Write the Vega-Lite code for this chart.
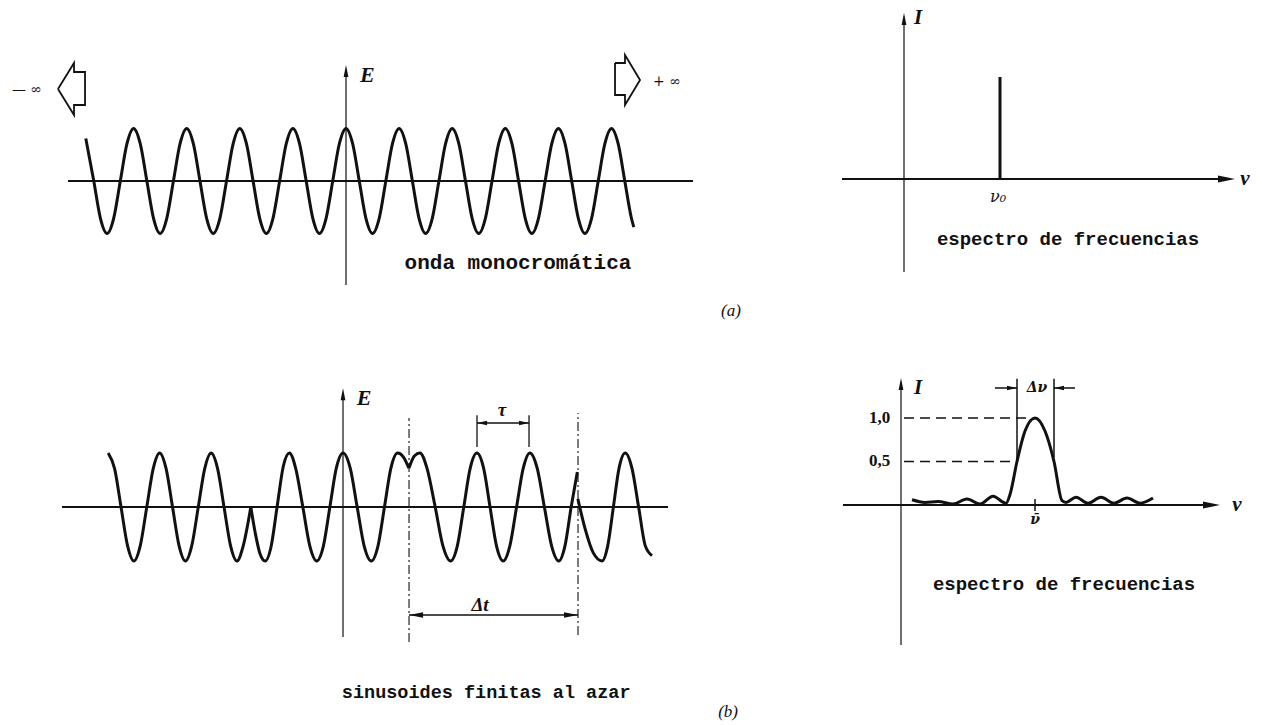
{
 "$schema": "https://vega.github.io/schema/vega-lite/v6.json",
 "padding": 0,
 "background": "white",
 "spacing": 0,
 "bounds": "flush",
 "align": "each",
 "columns": 2,
 "config": {"view": {"stroke": null}},
 "resolve": {"scale": {"x": "independent", "y": "independent"}},
 "concat": [
    {
     "width": 780, "height": 345,
     "encoding": {
      "x": {"field": "t", "type": "quantitative", "scale": {"domain": [-6.516, 8.173], "nice": false, "zero": false}, "axis": null},
      "y": {"field": "E", "type": "quantitative", "scale": {"domain": [-3.124, 3.448], "nice": false, "zero": false}, "axis": null}
     },
     "layer": [
      {"data": {"values": [{"t": -5.235, "E": 0, "t2": 6.535, "E2": 0}]}, "mark": {"type": "rule", "strokeWidth": 2, "color": "#111"}, "encoding": {"x2": {"field": "t2"}, "y2": {"field": "E2"}}},
      {"data": {"values": [{"t": 0, "E": -1.98, "t2": 0, "E2": 2.1}]}, "mark": {"type": "rule", "strokeWidth": 1.2, "color": "#111"}, "encoding": {"x2": {"field": "t2"}, "y2": {"field": "E2"}}},
      {"data": {"values": [{"t": 0, "E": 2.095}]}, "mark": {"type": "point", "shape": "M0,-1L0.4,1L-0.4,1Z", "size": 144, "filled": true, "color": "#111", "opacity": 1}, "encoding": {}},
      {"data": {"values": [
        {"t":-4.9,"E":0.81},{"t":-4.75,"E":0},{"t":-4.625,"E":-0.71},{"t":-4.5,"E":-1},{"t":-4.375,"E":-0.71},{"t":-4.25,"E":0},{"t":-4.125,"E":0.71},
        {"t":-4,"E":1},{"t":-3.875,"E":0.71},{"t":-3.75,"E":0},{"t":-3.625,"E":-0.71},{"t":-3.5,"E":-1},{"t":-3.375,"E":-0.71},{"t":-3.25,"E":0},{"t":-3.125,"E":0.71},
        {"t":-3,"E":1},{"t":-2.875,"E":0.71},{"t":-2.75,"E":0},{"t":-2.625,"E":-0.71},{"t":-2.5,"E":-1},{"t":-2.375,"E":-0.71},{"t":-2.25,"E":0},{"t":-2.125,"E":0.71},
        {"t":-2,"E":1},{"t":-1.875,"E":0.71},{"t":-1.75,"E":0},{"t":-1.625,"E":-0.71},{"t":-1.5,"E":-1},{"t":-1.375,"E":-0.71},{"t":-1.25,"E":0},{"t":-1.125,"E":0.71},
        {"t":-1,"E":1},{"t":-0.875,"E":0.71},{"t":-0.75,"E":0},{"t":-0.625,"E":-0.71},{"t":-0.5,"E":-1},{"t":-0.375,"E":-0.71},{"t":-0.25,"E":0},{"t":-0.125,"E":0.71},
        {"t":0,"E":1},{"t":0.125,"E":0.71},{"t":0.25,"E":0},{"t":0.375,"E":-0.71},{"t":0.5,"E":-1},{"t":0.625,"E":-0.71},{"t":0.75,"E":0},{"t":0.875,"E":0.71},
        {"t":1,"E":1},{"t":1.125,"E":0.71},{"t":1.25,"E":0},{"t":1.375,"E":-0.71},{"t":1.5,"E":-1},{"t":1.625,"E":-0.71},{"t":1.75,"E":0},{"t":1.875,"E":0.71},
        {"t":2,"E":1},{"t":2.125,"E":0.71},{"t":2.25,"E":0},{"t":2.375,"E":-0.71},{"t":2.5,"E":-1},{"t":2.625,"E":-0.71},{"t":2.75,"E":0},{"t":2.875,"E":0.71},
        {"t":3,"E":1},{"t":3.125,"E":0.71},{"t":3.25,"E":0},{"t":3.375,"E":-0.71},{"t":3.5,"E":-1},{"t":3.625,"E":-0.71},{"t":3.75,"E":0},{"t":3.875,"E":0.71},
        {"t":4,"E":1},{"t":4.125,"E":0.71},{"t":4.25,"E":0},{"t":4.375,"E":-0.71},{"t":4.5,"E":-1},{"t":4.625,"E":-0.71},{"t":4.75,"E":0},{"t":4.875,"E":0.71},
        {"t":5,"E":1},{"t":5.125,"E":0.71},{"t":5.25,"E":0},{"t":5.375,"E":-0.71},{"t":5.42,"E":-0.88}
      ]}, "mark": {"type": "line", "interpolate": "monotone", "strokeWidth": 3, "color": "#111"}, "encoding": {}},
      {"data": {"values": [
        {"g":"L","i":0,"t":-5.424,"E":1.752},{"g":"L","i":1,"t":-5.122,"E":2.248},{"g":"L","i":2,"t":-5.122,"E":2.076},{"g":"L","i":3,"t":-4.915,"E":2.076},
        {"g":"L","i":4,"t":-4.915,"E":1.448},{"g":"L","i":5,"t":-5.122,"E":1.448},{"g":"L","i":6,"t":-5.122,"E":1.257},{"g":"L","i":7,"t":-5.424,"E":1.752},
        {"g":"R","i":0,"t":5.066,"E":2.248},{"g":"R","i":1,"t":5.254,"E":2.248},{"g":"R","i":2,"t":5.254,"E":2.4},{"g":"R","i":3,"t":5.537,"E":1.924},
        {"g":"R","i":4,"t":5.254,"E":1.448},{"g":"R","i":5,"t":5.254,"E":1.638},{"g":"R","i":6,"t":5.066,"E":1.638},{"g":"R","i":7,"t":5.066,"E":2.248}
      ]}, "mark": {"type": "line", "strokeWidth": 1.8, "color": "#111", "strokeJoin": "miter"}, "encoding": {"detail": {"field": "g"}, "order": {"field": "i"}}},
      {"data": {"values": [{"t": -6.008, "E": 1.73, "label": "— ∞"}, {"t": 6.045, "E": 1.886, "label": "+ ∞"}]}, "mark": {"type": "text", "font": "DejaVu Serif", "fontSize": 14, "color": "#111", "align": "center", "baseline": "middle"}, "encoding": {"text": {"field": "label"}}},
      {"data": {"values": [{"t": 0.4, "E": 2.02, "label": "E"}]}, "mark": {"type": "text", "font": "Liberation Serif", "fontStyle": "italic", "fontWeight": "bold", "fontSize": 22, "color": "#111", "align": "center", "baseline": "middle"}, "encoding": {"text": {"field": "label"}}},
      {"data": {"values": [{"t": 3.239, "E": -1.562, "label": "onda monocromática"}]}, "mark": {"type": "text", "font": "Liberation Mono", "fontWeight": "bold", "fontSize": 21, "color": "#111", "align": "center", "baseline": "middle"}, "encoding": {"text": {"field": "label"}}},
      {"data": {"values": [{"t": 7.25, "E": -2.476, "label": "(a)"}]}, "mark": {"type": "text", "font": "Liberation Serif", "fontStyle": "italic", "fontSize": 17, "color": "#111", "align": "center", "baseline": "middle"}, "encoding": {"text": {"field": "label"}}}
     ]
    },
    {
     "width": 482, "height": 345,
     "encoding": {
      "x": {"field": "nu", "type": "quantitative", "scale": {"domain": [-1.24, 3.58], "nice": false, "zero": false}, "axis": null},
      "y": {"field": "I", "type": "quantitative", "scale": {"domain": [-1.66, 1.79], "nice": false, "zero": false}, "axis": null}
     },
     "layer": [
      {"data": {"values": [{"nu": -0.62, "I": 0, "nu2": 3.2, "I2": 0}]}, "mark": {"type": "rule", "strokeWidth": 2, "color": "#111"}, "encoding": {"x2": {"field": "nu2"}, "y2": {"field": "I2"}}},
      {"data": {"values": [{"nu": 3.225, "I": 0}]}, "mark": {"type": "point", "shape": "M1,0L-1,-0.4L-1,0.4Z", "size": 289, "filled": true, "color": "#111", "opacity": 1}, "encoding": {}},
      {"data": {"values": [{"nu": 0, "I": -0.93, "nu2": 0, "I2": 1.55}]}, "mark": {"type": "rule", "strokeWidth": 1.2, "color": "#111"}, "encoding": {"x2": {"field": "nu2"}, "y2": {"field": "I2"}}},
      {"data": {"values": [{"nu": 0, "I": 1.6}]}, "mark": {"type": "point", "shape": "M0,-1L0.4,1L-0.4,1Z", "size": 144, "filled": true, "color": "#111", "opacity": 1}, "encoding": {}},
      {"data": {"values": [{"nu": 0.96, "I": 0, "nu2": 0.96, "I2": 1.02}]}, "mark": {"type": "rule", "strokeWidth": 3, "color": "#111"}, "encoding": {"x2": {"field": "nu2"}, "y2": {"field": "I2"}}},
      {"data": {"values": [{"nu": 0.14, "I": 1.61, "label": "I"}, {"nu": 3.41, "I": 0, "label": "ν"}]}, "mark": {"type": "text", "font": "Liberation Serif", "fontStyle": "italic", "fontWeight": "bold", "fontSize": 21, "color": "#111", "align": "center", "baseline": "middle"}, "encoding": {"text": {"field": "label"}}},
      {"data": {"values": [{"nu": 0.94, "I": -0.18, "label": "ν₀"}]}, "mark": {"type": "text", "font": "DejaVu Serif", "fontStyle": "italic", "fontSize": 16, "color": "#111", "align": "center", "baseline": "middle"}, "encoding": {"text": {"field": "label"}}},
      {"data": {"values": [{"nu": 1.64, "I": -0.6, "label": "espectro de frecuencias"}]}, "mark": {"type": "text", "font": "Liberation Mono", "fontWeight": "bold", "fontSize": 19, "color": "#111", "align": "center", "baseline": "middle"}, "encoding": {"text": {"field": "label"}}}
     ]
    },
    {
     "width": 780, "height": 380,
     "encoding": {
      "x": {"field": "t", "type": "quantitative", "scale": {"domain": [-6.66, 8.485], "nice": false, "zero": false}, "axis": null},
      "y": {"field": "E", "type": "quantitative", "scale": {"domain": [-4.037, 3.0], "nice": false, "zero": false}, "axis": null}
     },
     "layer": [
      {"data": {"values": [{"t": -5.456, "E": 0, "t2": 6.311, "E2": 0}]}, "mark": {"type": "rule", "strokeWidth": 2, "color": "#111"}, "encoding": {"x2": {"field": "t2"}, "y2": {"field": "E2"}}},
      {"data": {"values": [{"t": 0, "E": -2.407, "t2": 0, "E2": 2.09}]}, "mark": {"type": "rule", "strokeWidth": 1.2, "color": "#111"}, "encoding": {"x2": {"field": "t2"}, "y2": {"field": "E2"}}},
      {"data": {"values": [{"t": 0, "E": 2.09}]}, "mark": {"type": "point", "shape": "M0,-1L0.4,1L-0.4,1Z", "size": 144, "filled": true, "color": "#111", "opacity": 1}, "encoding": {}},
      {"data": {"values": [{"t": 1.282, "E": -2.5, "t2": 1.282, "E2": 1.65}, {"t": 4.563, "E": -2.37, "t2": 4.563, "E2": 1.74}]}, "mark": {"type": "rule", "strokeWidth": 1.1, "strokeDash": [9, 3, 2, 3], "color": "#111"}, "encoding": {"x2": {"field": "t2"}, "y2": {"field": "E2"}}},
      {"data": {"values": [
        {"seg":1,"t":-4.56,"E":1},{"seg":1,"t":-4.435,"E":0.71},{"seg":1,"t":-4.31,"E":0},{"seg":1,"t":-4.185,"E":-0.71},{"seg":1,"t":-4.06,"E":-1},{"seg":1,"t":-3.935,"E":-0.71},{"seg":1,"t":-3.81,"E":0},{"seg":1,"t":-3.685,"E":0.71},
        {"seg":1,"t":-3.56,"E":1},{"seg":1,"t":-3.435,"E":0.71},{"seg":1,"t":-3.31,"E":0},{"seg":1,"t":-3.185,"E":-0.71},{"seg":1,"t":-3.06,"E":-1},{"seg":1,"t":-2.935,"E":-0.71},{"seg":1,"t":-2.81,"E":0},{"seg":1,"t":-2.685,"E":0.71},
        {"seg":1,"t":-2.56,"E":1},{"seg":1,"t":-2.435,"E":0.71},{"seg":1,"t":-2.31,"E":0},{"seg":1,"t":-2.185,"E":-0.71},{"seg":1,"t":-2.06,"E":-1},{"seg":1,"t":-1.935,"E":-0.71},{"seg":1,"t":-1.79,"E":0},
        {"seg":2,"t":-1.79,"E":0},{"seg":2,"t":-1.7,"E":-0.5},{"seg":2,"t":-1.61,"E":-0.87},{"seg":2,"t":-1.51,"E":-1},{"seg":2,"t":-1.4,"E":-0.75},{"seg":2,"t":-1.28,"E":0},{"seg":2,"t":-1.16,"E":0.75},
        {"seg":2,"t":-1.04,"E":1},{"seg":2,"t":-0.92,"E":0.72},{"seg":2,"t":-0.78,"E":0},{"seg":2,"t":-0.645,"E":-0.72},{"seg":2,"t":-0.51,"E":-1},{"seg":2,"t":-0.38,"E":-0.72},{"seg":2,"t":-0.255,"E":0},{"seg":2,"t":-0.13,"E":0.72},
        {"seg":2,"t":0,"E":1},{"seg":2,"t":0.14,"E":0.72},{"seg":2,"t":0.275,"E":0},{"seg":2,"t":0.41,"E":-0.72},{"seg":2,"t":0.55,"E":-1},{"seg":2,"t":0.68,"E":-0.72},{"seg":2,"t":0.805,"E":0},{"seg":2,"t":0.93,"E":0.72},
        {"seg":2,"t":1.06,"E":1},{"seg":2,"t":1.17,"E":0.93},{"seg":2,"t":1.28,"E":0.72},
        {"seg":3,"t":1.28,"E":0.72},{"seg":3,"t":1.39,"E":0.95},{"seg":3,"t":1.495,"E":1},{"seg":3,"t":1.63,"E":0.72},{"seg":3,"t":1.79,"E":0},{"seg":3,"t":1.94,"E":-0.72},{"seg":3,"t":2.09,"E":-1},{"seg":3,"t":2.22,"E":-0.72},
        {"seg":3,"t":2.345,"E":0},{"seg":3,"t":2.47,"E":0.72},{"seg":3,"t":2.6,"E":1},{"seg":3,"t":2.73,"E":0.72},{"seg":3,"t":2.855,"E":0},{"seg":3,"t":2.98,"E":-0.72},{"seg":3,"t":3.11,"E":-1},{"seg":3,"t":3.24,"E":-0.72},
        {"seg":3,"t":3.37,"E":0},{"seg":3,"t":3.5,"E":0.72},{"seg":3,"t":3.63,"E":1},{"seg":3,"t":3.77,"E":0.72},{"seg":3,"t":3.91,"E":0},{"seg":3,"t":4.05,"E":-0.72},{"seg":3,"t":4.19,"E":-1},{"seg":3,"t":4.31,"E":-0.72},
        {"seg":3,"t":4.43,"E":0},{"seg":3,"t":4.55,"E":0.65},
        {"seg":4,"t":4.56,"E":0.15},{"seg":4,"t":4.7,"E":-0.4},{"seg":4,"t":4.86,"E":-0.85},{"seg":4,"t":5.03,"E":-1},{"seg":4,"t":5.14,"E":-0.72},{"seg":4,"t":5.25,"E":0},{"seg":4,"t":5.36,"E":0.72},
        {"seg":4,"t":5.48,"E":1},{"seg":4,"t":5.61,"E":0.72},{"seg":4,"t":5.74,"E":0},{"seg":4,"t":5.87,"E":-0.72},{"seg":4,"t":6.0,"E":-0.9}
      ]}, "mark": {"type": "line", "interpolate": "monotone", "strokeWidth": 3, "color": "#111"}, "encoding": {"detail": {"field": "seg"}}},
      {"data": {"values": [{"t": 1.282, "E": -2.0, "t2": 4.563, "E2": -2.0}, {"t": 2.602, "E": 1.556, "t2": 3.612, "E2": 1.556}]}, "mark": {"type": "rule", "strokeWidth": 1.5, "color": "#111"}, "encoding": {"x2": {"field": "t2"}, "y2": {"field": "E2"}}},
      {"data": {"values": [{"t": 2.602, "E": 1.11, "t2": 2.602, "E2": 1.7}, {"t": 3.612, "E": 1.11, "t2": 3.612, "E2": 1.7}]}, "mark": {"type": "rule", "strokeWidth": 1.3, "color": "#111"}, "encoding": {"x2": {"field": "t2"}, "y2": {"field": "E2"}}},
      {"data": {"values": [{"t": 1.418, "E": -2.0}]}, "mark": {"type": "point", "shape": "M-1,0L1,-0.4L1,0.4Z", "size": 196, "filled": true, "color": "#111", "opacity": 1}, "encoding": {}},
      {"data": {"values": [{"t": 4.427, "E": -2.0}]}, "mark": {"type": "point", "shape": "M1,0L-1,-0.4L-1,0.4Z", "size": 196, "filled": true, "color": "#111", "opacity": 1}, "encoding": {}},
      {"data": {"values": [{"t": 2.7, "E": 1.556}]}, "mark": {"type": "point", "shape": "M-1,0L1,-0.45L1,0.45Z", "size": 100, "filled": true, "color": "#111", "opacity": 1}, "encoding": {}},
      {"data": {"values": [{"t": 3.515, "E": 1.556}]}, "mark": {"type": "point", "shape": "M1,0L-1,-0.45L-1,0.45Z", "size": 100, "filled": true, "color": "#111", "opacity": 1}, "encoding": {}},
      {"data": {"values": [{"t": 0.41, "E": 2.02, "label": "E"}]}, "mark": {"type": "text", "font": "Liberation Serif", "fontStyle": "italic", "fontWeight": "bold", "fontSize": 22, "color": "#111", "align": "center", "baseline": "middle"}, "encoding": {"text": {"field": "label"}}},
      {"data": {"values": [{"t": 3.087, "E": 1.8, "label": "τ"}, {"t": 2.66, "E": -1.815, "label": "Δt"}]}, "mark": {"type": "text", "font": "Liberation Serif", "fontStyle": "italic", "fontWeight": "bold", "fontSize": 19, "color": "#111", "align": "center", "baseline": "middle"}, "encoding": {"text": {"field": "label"}}},
      {"data": {"values": [{"t": 2.78, "E": -3.43, "label": "sinusoides finitas al azar"}]}, "mark": {"type": "text", "font": "Liberation Mono", "fontWeight": "bold", "fontSize": 18.5, "color": "#111", "align": "center", "baseline": "middle"}, "encoding": {"text": {"field": "label"}}},
      {"data": {"values": [{"t": 7.476, "E": -3.796, "label": "(b)"}]}, "mark": {"type": "text", "font": "Liberation Serif", "fontStyle": "italic", "fontSize": 17, "color": "#111", "align": "center", "baseline": "middle"}, "encoding": {"text": {"field": "label"}}}
     ]
    },
    {
     "width": 482, "height": 380,
     "encoding": {
      "x": {"field": "nu", "type": "quantitative", "scale": {"domain": [-1.21, 3.61], "nice": false, "zero": false}, "axis": null},
      "y": {"field": "I", "type": "quantitative", "scale": {"domain": [-2.529, 1.839], "nice": false, "zero": false}, "axis": null}
     },
     "layer": [
      {"data": {"values": [{"nu": -0.58, "I": 0, "nu2": 3.08, "I2": 0}]}, "mark": {"type": "rule", "strokeWidth": 2, "color": "#111"}, "encoding": {"x2": {"field": "nu2"}, "y2": {"field": "I2"}}},
      {"data": {"values": [{"nu": 3.105, "I": 0}]}, "mark": {"type": "point", "shape": "M1,0L-1,-0.4L-1,0.4Z", "size": 289, "filled": true, "color": "#111", "opacity": 1}, "encoding": {}},
      {"data": {"values": [{"nu": 0, "I": -1.61, "nu2": 0, "I2": 1.39}]}, "mark": {"type": "rule", "strokeWidth": 1.2, "color": "#111"}, "encoding": {"x2": {"field": "nu2"}, "y2": {"field": "I2"}}},
      {"data": {"values": [{"nu": 0, "I": 1.39}]}, "mark": {"type": "point", "shape": "M0,-1L0.4,1L-0.4,1Z", "size": 144, "filled": true, "color": "#111", "opacity": 1}, "encoding": {}},
      {"data": {"values": [
        {"nu":0.11,"I":0.06},{"nu":0.24,"I":0.03},{"nu":0.37,"I":0.04},{"nu":0.52,"I":0.01},{"nu":0.66,"I":0.07},{"nu":0.79,"I":0.01},{"nu":0.92,"I":0.1},{"nu":1.05,"I":0.02},
        {"nu":1.09,"I":0.12},{"nu":1.16,"I":0.5},{"nu":1.24,"I":0.85},{"nu":1.34,"I":1.0},{"nu":1.44,"I":0.85},{"nu":1.53,"I":0.5},{"nu":1.61,"I":0.05},
        {"nu":1.65,"I":0.03},{"nu":1.75,"I":0.09},{"nu":1.87,"I":0.02},{"nu":2.0,"I":0.09},{"nu":2.13,"I":0.02},{"nu":2.26,"I":0.08},{"nu":2.39,"I":0.02},{"nu":2.52,"I":0.08}
      ]}, "mark": {"type": "line", "interpolate": "monotone", "strokeWidth": 3, "color": "#111"}, "encoding": {}},
      {"data": {"values": [{"nu": 0.03, "I": 1, "nu2": 1.3, "I2": 1}, {"nu": 0.03, "I": 0.5, "nu2": 1.16, "I2": 0.5}]}, "mark": {"type": "rule", "strokeWidth": 1.5, "strokeDash": [10, 6], "color": "#111"}, "encoding": {"x2": {"field": "nu2"}, "y2": {"field": "I2"}}},
      {"data": {"values": [{"nu": 1.16, "I": 0.5, "nu2": 1.16, "I2": 1.45}, {"nu": 1.53, "I": 0.55, "nu2": 1.53, "I2": 1.45}, {"nu": 0.94, "I": 1.345, "nu2": 1.16, "I2": 1.345}, {"nu": 1.53, "I": 1.345, "nu2": 1.74, "I2": 1.345}, {"nu": 1.34, "I": -0.07, "nu2": 1.34, "I2": 0.07}]}, "mark": {"type": "rule", "strokeWidth": 1.5, "color": "#111"}, "encoding": {"x2": {"field": "nu2"}, "y2": {"field": "I2"}}},
      {"data": {"values": [{"nu": 1.11, "I": 1.345}]}, "mark": {"type": "point", "shape": "M1,0L-1,-0.45L-1,0.45Z", "size": 100, "filled": true, "color": "#111", "opacity": 1}, "encoding": {}},
      {"data": {"values": [{"nu": 1.58, "I": 1.345}]}, "mark": {"type": "point", "shape": "M-1,0L1,-0.45L1,0.45Z", "size": 100, "filled": true, "color": "#111", "opacity": 1}, "encoding": {}},
      {"data": {"values": [{"nu": 0.17, "I": 1.345, "label": "I"}, {"nu": 3.36, "I": 0, "label": "ν"}]}, "mark": {"type": "text", "font": "Liberation Serif", "fontStyle": "italic", "fontWeight": "bold", "fontSize": 21, "color": "#111", "align": "center", "baseline": "middle"}, "encoding": {"text": {"field": "label"}}},
      {"data": {"values": [{"nu": 1.36, "I": 1.345, "label": "Δν"}, {"nu": 1.34, "I": -0.17, "label": "ν̄"}]}, "mark": {"type": "text", "font": "DejaVu Serif", "fontStyle": "italic", "fontWeight": "bold", "fontSize": 14, "color": "#111", "align": "center", "baseline": "middle"}, "encoding": {"text": {"field": "label"}}},
      {"data": {"values": [{"nu": -0.215, "I": 1, "label": "1,0"}, {"nu": -0.215, "I": 0.5, "label": "0,5"}]}, "mark": {"type": "text", "font": "Liberation Serif", "fontWeight": "bold", "fontSize": 17, "color": "#111", "align": "center", "baseline": "middle"}, "encoding": {"text": {"field": "label"}}},
      {"data": {"values": [{"nu": 1.63, "I": -0.91, "label": "espectro de frecuencias"}]}, "mark": {"type": "text", "font": "Liberation Mono", "fontWeight": "bold", "fontSize": 19, "color": "#111", "align": "center", "baseline": "middle"}, "encoding": {"text": {"field": "label"}}}
     ]
    }
 ]
}
